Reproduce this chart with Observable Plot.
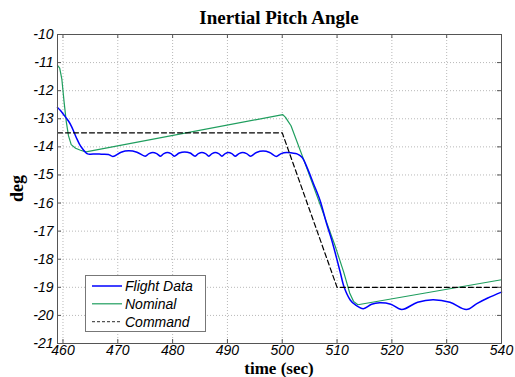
<!DOCTYPE html>
<html>
<head>
<meta charset="utf-8">
<script src="https://cdn.jsdelivr.net/npm/d3@7"></script>
<script src="https://cdn.jsdelivr.net/npm/@observablehq/plot@0.6"></script>
<style>
  html, body { margin: 0; padding: 0; background: #fff; }
  #chart svg { display: block; }
</style>
</head>
<body>
<div id="chart"></div>
<script>
// ---- data ----
const titleText = "Inertial Pitch Angle";
const xLabel = "time (sec)";
const yLabel = "deg";
const xTicks = [460, 470, 480, 490, 500, 510, 520, 530, 540];
const yTicks = [-10, -11, -12, -13, -14, -15, -16, -17, -18, -19, -20, -21];
const seriesNames = ["Flight Data", "Nominal", "Command"];

const commandData = [[459, -13.5], [500, -13.5], [510, -19], [540, -19]];

const nominalData = [
  [459, -11.1], [459.4, -11.2], [459.8, -11.6], [460.2, -12.4], [460.6, -13.1],
  [461, -13.6], [461.5, -13.92], [462.3, -14.05], [463.2, -14.12], [464.2, -14.18],
  [500.1, -12.85], [500.6, -12.95], [501.1, -13.1], [501.6, -13.25],
  [504, -14.5], [507, -16.1], [509.6, -17.5], [511.2, -18.45], [512.3, -19.2],
  [513, -19.5], [513.8, -19.62], [540, -18.73]
];

const flightData = [
  [459, -12.6], [459.5, -12.7], [460, -12.82], [460.5, -12.95], [461, -13.08],
  [461.5, -13.25], [462, -13.47], [462.5, -13.7], [463, -13.9], [463.5, -14.05],
  [464, -14.17], [464.5, -14.25], [465, -14.26], [466, -14.25], [467, -14.26],
  [468.3, -14.27], [469.1, -14.34],
  [470.6, -14.19], [472.0, -14.14], [473.5, -14.19], [475.0, -14.33],
  [475.7, -14.24], [476.4, -14.2], [477.1, -14.24], [477.8, -14.33],
  [478.4, -14.24], [479.05, -14.2], [479.7, -14.24], [480.3, -14.33],
  [481.2, -14.22], [482.2, -14.18], [483.2, -14.22], [484.1, -14.33],
  [484.7, -14.24], [485.35, -14.2], [486.0, -14.24], [486.6, -14.33],
  [487.2, -14.24], [487.8, -14.2], [488.4, -14.24], [489.0, -14.33],
  [489.6, -14.24], [490.2, -14.2], [490.8, -14.24], [491.4, -14.33],
  [492.1, -14.24], [492.8, -14.2], [493.5, -14.24], [494.2, -14.33],
  [495.3, -14.2], [496.5, -14.15], [497.7, -14.2], [498.9, -14.34],
  [499.8, -14.24], [500.8, -14.2], [501.8, -14.22], [502.7, -14.25], [503.6, -14.37],
  [504.5, -14.72], [505.7, -15.31], [506.9, -15.91], [508.1, -16.74], [509.0, -17.3],
  [510.5, -18.4], [511.3, -19.0], [512.4, -19.45], [513.3, -19.62], [514.8, -19.76],
  [516.3, -19.6], [517.8, -19.55], [519.8, -19.6], [521.8, -19.79],
  [524.7, -19.53], [527.5, -19.44], [530.6, -19.53], [533.6, -19.79],
  [535.5, -19.58], [537.5, -19.38], [540, -19.17]
];

// ---- style ----
const colors = { flight: "#0000ff", nominal: "#1f9e5e", command: "#000000" };
const W = 515, H = 377, mL = 57, mR = 14, mT = 34, mB = 34;
const pw = W - mL - mR, ph = H - mT - mB;
const tickFont = "'Liberation Sans', Arial, sans-serif";
const labelFont = "'Liberation Serif', 'Times New Roman', serif";
const frameColor = "#555";
const gridStyle = { stroke: "#b8b8b8", strokeOpacity: 1, strokeDasharray: "1,2", strokeWidth: 1 };

const plot = Plot.plot({
  width: W, height: H,
  marginLeft: mL, marginRight: mR, marginTop: mT, marginBottom: mB,
  style: { fontFamily: tickFont, color: "#000", background: "#fff" },
  x: { domain: [459, 540] },
  y: { domain: [-21, -10] },
  marks: [
    Plot.gridX(xTicks, gridStyle),
    Plot.gridY(yTicks, gridStyle),
    Plot.line(nominalData, { x: d => d[0], y: d => d[1], stroke: colors.nominal, strokeWidth: 1.2 }),
    Plot.line(flightData, { x: d => d[0], y: d => d[1], stroke: colors.flight, strokeWidth: 1.5, curve: "catmull-rom" }),
    Plot.line(commandData, { x: d => d[0], y: d => d[1], stroke: colors.command, strokeWidth: 1.2, strokeDasharray: "5,3" }),
    // inward tick marks on all four sides
    Plot.tickX(xTicks, { x: d => d, insetTop: ph - 4, stroke: frameColor }),
    Plot.tickX(xTicks, { x: d => d, insetBottom: ph - 4, stroke: frameColor }),
    Plot.tickY(yTicks, { y: d => d, insetRight: pw - 4, stroke: frameColor }),
    Plot.tickY(yTicks, { y: d => d, insetLeft: pw - 4, stroke: frameColor }),
    Plot.frame({ stroke: frameColor, strokeWidth: 1 }),
    Plot.axisX(xTicks, { tickSize: 0, tickPadding: 2, fontSize: 14, fontStyle: "italic", fontFamily: tickFont, fill: "#000", label: null, tickFormat: d => String(d) }),
    Plot.axisY(yTicks, { tickSize: 0, tickPadding: 4, fontSize: 14, fontStyle: "italic", fontFamily: tickFont, fill: "#000", label: null, tickFormat: d => String(d).replace("\u2212", "-") })
  ]
});

document.getElementById("chart").appendChild(plot);

// ---- titles and legend ----
const svg = d3.select(plot);
svg.append("text")
  .attr("x", mL + pw / 2).attr("y", 24)
  .attr("text-anchor", "middle")
  .attr("font-family", labelFont).attr("font-weight", "bold").attr("font-size", 19)
  .attr("fill", "#000").text(titleText);
svg.append("text")
  .attr("x", mL + pw / 2).attr("y", 374)
  .attr("text-anchor", "middle")
  .attr("font-family", labelFont).attr("font-weight", "bold").attr("font-size", 17)
  .attr("fill", "#000").text(xLabel);
svg.append("text")
  .attr("transform", `translate(23,${mT + ph / 2}) rotate(-90)`)
  .attr("text-anchor", "middle")
  .attr("font-family", labelFont).attr("font-weight", "bold").attr("font-size", 18)
  .attr("fill", "#000").text(yLabel);

const lg = svg.append("g");
lg.append("rect")
  .attr("x", 85.5).attr("y", 275.5).attr("width", 120).attr("height", 56)
  .attr("fill", "#fff").attr("stroke", "#777").attr("stroke-width", 1);
const legendItems = [
  { name: seriesNames[0], color: colors.flight, dash: null, w: 1.5 },
  { name: seriesNames[1], color: colors.nominal, dash: null, w: 1.2 },
  { name: seriesNames[2], color: "#555", dash: "3,2", w: 1.2 }
];
legendItems.forEach((it, i) => {
  const y = 286 + i * 17.8;
  const l = lg.append("line")
    .attr("x1", 92).attr("x2", 122).attr("y1", y).attr("y2", y)
    .attr("stroke", it.color).attr("stroke-width", it.w);
  if (it.dash) l.attr("stroke-dasharray", it.dash);
  lg.append("text")
    .attr("x", 125).attr("y", y).attr("dy", "0.36em")
    .attr("text-anchor", "start")
    .attr("font-family", tickFont).attr("font-style", "italic").attr("font-size", 14)
    .attr("fill", "#000").text(it.name);
});
</script>
</body>
</html>
